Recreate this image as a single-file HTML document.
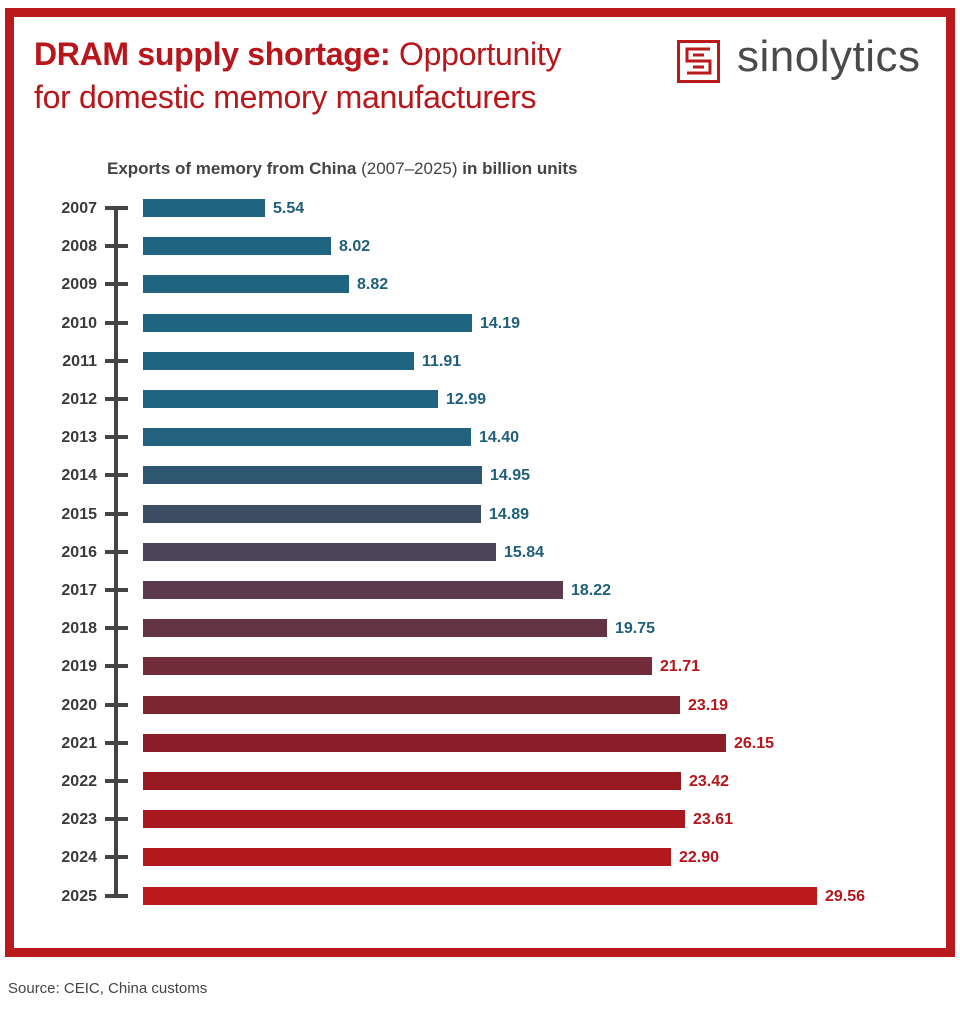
<!DOCTYPE html>
<html><head><meta charset="utf-8"><style>
body{margin:0;width:960px;height:1016px;background:#fff;font-family:"Liberation Sans",sans-serif;position:relative;overflow:hidden}
.frame{position:absolute;left:5px;top:8px;width:932px;height:931px;border:9px solid #bb1a1c}
.t{position:absolute;color:#b8161b;font-size:32px;white-space:nowrap;letter-spacing:-0.3px}
.yr{position:absolute;width:90px;left:7px;text-align:right;font-weight:bold;font-size:16px;color:#3a3a3a}
.bar{position:absolute;left:143px;height:18px}
.v{position:absolute;font-weight:bold;font-size:16px}
.tk{position:absolute;left:105px;width:23px;height:4px;background:#444}
</style></head><body>
<div class="frame"></div>
<div class="t" style="left:34px;top:36px"><b>DRAM supply shortage:</b> Opportunity</div>
<div class="t" style="left:34px;top:79px">for domestic memory manufacturers</div>
<svg style="position:absolute;left:677px;top:40px" width="43" height="43" viewBox="0 0 43 43">
<rect x="1.5" y="1.5" width="40" height="40" fill="none" stroke="#bb1a1c" stroke-width="3"/>
<path d="M33 9H10V21H33V33H10" fill="none" stroke="#bb1a1c" stroke-width="3"/>
<path d="M27 15H16M16 27H27" stroke="#bb1a1c" stroke-width="3"/>
</svg>
<div style="position:absolute;left:737px;top:32px;font-size:44px;color:#4a4a4a;letter-spacing:0.5px">sinolytics</div>
<div style="position:absolute;left:107px;top:159px;font-size:17px;color:#444"><b>Exports of memory from China</b> (2007–2025) <b>in billion units</b></div>
<div style="position:absolute;left:114px;top:208px;width:4px;height:690px;background:#444"></div>
<div id="c"></div>
<div style="position:absolute;left:8px;top:980px;font-size:15px;color:#444">Source: CEIC, China customs</div>
<script>
var d=[[2007,"5.54",265,"#1f6480"],[2008,"8.02",331,"#1f6480"],[2009,"8.82",349,"#1f6480"],[2010,"14.19",472,"#1f6480"],[2011,"11.91",414,"#1f6480"],[2012,"12.99",438,"#1f6480"],[2013,"14.40",471,"#22627e"],[2014,"14.95",482,"#2f5670"],[2015,"14.89",481,"#3d4c62"],[2016,"15.84",496,"#4a4458"],[2017,"18.22",563,"#5a3a4c"],[2018,"19.75",607,"#643444"],[2019,"21.71",652,"#722c3a"],[2020,"23.19",680,"#7c2632"],[2021,"26.15",726,"#8a1d28"],[2022,"23.42",681,"#971a22"],[2023,"23.61",685,"#a8191f"],[2024,"22.90",671,"#b2181c"],[2025,"29.56",817,"#bb191b"]];
var h="";d.forEach(function(r,i){var y=208+i*38.2;var lc=i<12?"#1f5f7a":"#b5151b";
h+='<div class="yr" style="top:'+(y-8)+'px">'+r[0]+'</div><div class="tk" style="top:'+(y-2)+'px"></div><div class="bar" style="top:'+(y-9)+'px;width:'+(r[2]-143)+'px;background:'+r[3]+'"></div><div class="v" style="left:'+(r[2]+8)+'px;top:'+(y-8)+'px;color:'+lc+'">'+r[1]+'</div>';});
document.getElementById("c").innerHTML=h;
</script>
</body></html>
